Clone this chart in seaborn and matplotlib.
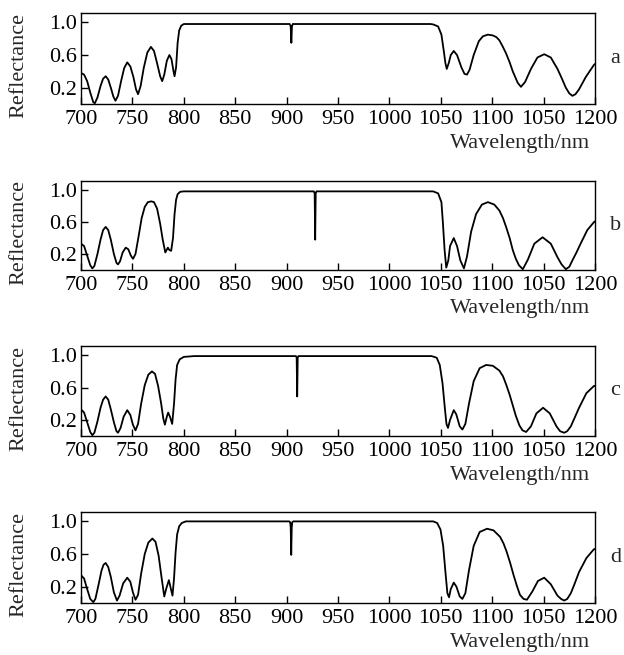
import matplotlib
matplotlib.use("Agg")
import matplotlib.pyplot as plt
import seaborn as sns

# reflectance spectra (a-d)
wl_a = [700, 703, 706, 709, 712, 713.5, 716, 719, 721.5, 724,
        726.5, 729, 731.5, 733.5, 736, 739, 742, 745, 748, 751,
        753.5, 755.5, 758, 761, 764.5, 768, 771, 774, 777, 779,
        781, 783.5, 786, 788, 790, 791, 792.5, 794, 795.5, 797.5,
        800, 850, 903, 904, 904.6, 905.2, 906, 950, 1000, 1040,
        1042.6, 1047.4, 1050.6, 1052.9, 1054.5, 1055.8, 1057.7, 1059.7, 1062.6, 1065.8,
        1070, 1073, 1075.5, 1078, 1082, 1087, 1091, 1095.8, 1100.6, 1104,
        1107, 1110, 1113.5, 1117, 1120, 1124.8, 1128, 1132, 1137.7, 1144,
        1150.6, 1157, 1163.5, 1167.5, 1171.6, 1175, 1178, 1181, 1184.5, 1191,
        1199, 1200]
r_a = [0.38, 0.36, 0.28, 0.14, 0.02, 0.01, 0.08, 0.22, 0.31, 0.34,
       0.30, 0.20, 0.09, 0.04, 0.10, 0.28, 0.44, 0.51, 0.46, 0.33,
       0.18, 0.12, 0.22, 0.44, 0.63, 0.70, 0.65, 0.50, 0.34, 0.28,
       0.36, 0.53, 0.60, 0.55, 0.40, 0.34, 0.45, 0.75, 0.90, 0.96,
       0.98, 0.98, 0.98, 0.95, 0.75, 0.95, 0.98, 0.98, 0.98, 0.98,
       0.975, 0.95, 0.85, 0.65, 0.50, 0.43, 0.50, 0.60, 0.65, 0.60,
       0.45, 0.37, 0.36, 0.42, 0.60, 0.77, 0.83, 0.85, 0.84, 0.82,
       0.78, 0.71, 0.62, 0.51, 0.40, 0.26, 0.21, 0.27, 0.43, 0.57,
       0.61, 0.57, 0.43, 0.32, 0.20, 0.13, 0.10, 0.12, 0.18, 0.33,
       0.48, 0.49]

wl_b = [700, 703, 706, 709, 711, 713, 716, 719, 721.5, 724,
        726.5, 729, 732, 734.5, 736, 738, 740.5, 743.5, 746, 748.5,
        750.6, 753, 756, 759, 762, 765, 768.4, 771, 774, 777,
        779.5, 782, 784.5, 786, 787.7, 789.5, 791, 792.5, 794, 796.5,
        800, 850, 900, 926.5, 927.3, 927.8, 928.3, 929, 950, 1000,
        1042.6, 1047.4, 1050.6, 1052, 1053.7, 1055.3, 1057.3, 1059, 1062.6, 1065.8,
        1069, 1072.5, 1075.5, 1079.5, 1084.3, 1090, 1095.8, 1102, 1107, 1110.5,
        1113.5, 1117, 1120, 1123, 1126, 1129.8, 1134.7, 1141, 1149, 1157,
        1163.5, 1167.5, 1171.6, 1175, 1178, 1182, 1186, 1192.5, 1199, 1200]
r_b = [0.33, 0.30, 0.18, 0.06, 0.02, 0.05, 0.20, 0.38, 0.50, 0.54,
       0.50, 0.38, 0.20, 0.09, 0.07, 0.11, 0.22, 0.28, 0.26, 0.18,
       0.14, 0.20, 0.42, 0.65, 0.79, 0.85, 0.86, 0.85, 0.77, 0.58,
       0.38, 0.22, 0.28, 0.25, 0.24, 0.40, 0.70, 0.88, 0.95, 0.98,
       0.985, 0.985, 0.985, 0.985, 0.96, 0.38, 0.96, 0.985, 0.985, 0.985,
       0.985, 0.96, 0.85, 0.60, 0.25, 0.03, 0.12, 0.30, 0.40, 0.30,
       0.12, 0.02, 0.17, 0.48, 0.70, 0.82, 0.85, 0.82, 0.745, 0.65,
       0.54, 0.40, 0.25, 0.14, 0.06, 0.01, 0.13, 0.33, 0.41, 0.33,
       0.16, 0.07, 0.01, 0.04, 0.12, 0.22, 0.33, 0.50, 0.60, 0.61]

wl_c = [700, 703, 706, 709, 711, 713, 716, 719, 721.5, 724,
        726.5, 729, 732, 734.5, 736, 738.5, 741.5, 745, 748, 750.5,
        753, 755.5, 758.5, 762, 765.5, 769, 772, 775, 778, 780,
        781.6, 783.5, 784.8, 786.5, 788.7, 790.5, 792, 793.5, 796, 800,
        810, 850, 900, 909, 909.8, 910.3, 910.8, 911.5, 950, 1000,
        1041, 1046, 1049, 1051.7, 1053.9, 1055.5, 1057, 1059, 1062.6, 1065,
        1068.4, 1071, 1073.9, 1077.4, 1082, 1087.8, 1094, 1100.6, 1107, 1110.5,
        1113.5, 1117, 1120, 1123, 1126.5, 1129.5, 1133, 1137.7, 1143, 1149.5,
        1156, 1162.5, 1166, 1170, 1173, 1176.5, 1180, 1184.5, 1191.6, 1199,
        1200]
r_c = [0.33, 0.29, 0.17, 0.05, 0.01, 0.04, 0.18, 0.35, 0.45, 0.49,
       0.45, 0.33, 0.17, 0.06, 0.04, 0.10, 0.24, 0.32, 0.26, 0.14,
       0.07, 0.15, 0.40, 0.63, 0.76, 0.80, 0.77, 0.62, 0.40, 0.22,
       0.14, 0.24, 0.29, 0.24, 0.15, 0.40, 0.70, 0.88, 0.95, 0.98,
       0.99, 0.99, 0.99, 0.99, 0.97, 0.49, 0.97, 0.99, 0.99, 0.99,
       0.99, 0.97, 0.88, 0.65, 0.35, 0.15, 0.10, 0.20, 0.32, 0.27,
       0.12, 0.08, 0.15, 0.40, 0.68, 0.84, 0.88, 0.87, 0.81, 0.74,
       0.64, 0.51, 0.38, 0.25, 0.13, 0.07, 0.05, 0.12, 0.28, 0.35,
       0.28, 0.12, 0.06, 0.04, 0.06, 0.12, 0.22, 0.35, 0.53, 0.62,
       0.62]

wl_d = [700, 703, 706, 709, 712, 714, 717, 720, 722, 724,
        726.5, 729, 732, 735, 737.5, 741, 745, 748, 750.5, 753,
        755.5, 758.5, 762, 765.5, 769.4, 772.5, 775.5, 778.5, 781, 783,
        785.5, 787.5, 789, 790.5, 792, 793.5, 795.5, 798, 802, 850,
        900, 902.5, 903.5, 904, 904.5, 905, 905.5, 906.5, 950, 1000,
        1042.6, 1046.5, 1049.7, 1052.3, 1054.5, 1056.4, 1058, 1059.7, 1062.6, 1065.2,
        1068.4, 1071, 1073.9, 1077.4, 1082, 1087.8, 1095, 1101.3, 1107.7, 1111,
        1114, 1117.5, 1120.6, 1124, 1127, 1130.5, 1133.8, 1139, 1144.5, 1150.6,
        1157, 1163.5, 1167, 1170, 1173, 1176.5, 1180, 1184.5, 1191.6, 1199,
        1200]
r_d = [0.34, 0.30, 0.17, 0.05, 0.01, 0.05, 0.22, 0.40, 0.47, 0.49,
       0.44, 0.32, 0.13, 0.03, 0.09, 0.24, 0.31, 0.26, 0.13, 0.04,
       0.10, 0.36, 0.60, 0.74, 0.79, 0.75, 0.58, 0.30, 0.08, 0.18,
       0.28, 0.17, 0.09, 0.30, 0.62, 0.84, 0.94, 0.98, 1.0, 1.0,
       1.0, 1.0, 0.99, 0.93, 0.59, 0.93, 0.99, 1.0, 1.0, 1.0,
       1.0, 0.98, 0.90, 0.70, 0.38, 0.12, 0.07, 0.17, 0.25, 0.20,
       0.08, 0.05, 0.12, 0.40, 0.70, 0.87, 0.91, 0.89, 0.81, 0.73,
       0.63, 0.49, 0.35, 0.21, 0.10, 0.05, 0.04, 0.14, 0.27, 0.31,
       0.23, 0.09, 0.05, 0.03, 0.05, 0.12, 0.23, 0.38, 0.55, 0.66,
       0.66]

panel_names = ["a", "b", "c", "d"]
x_ticks = [700, 750, 800, 850, 900, 950, 1000, 1050, 1100, 1150, 1200]
x_tick_labels = ["700", "750", "800", "850", "900", "950", "1000",
                 "1050", "1100", "1050", "1200"]
y_ticks = [0.2, 0.6, 1.0]
y_tick_labels = ["0.2", "0.6", "1.0"]

sns.set_style("ticks")
plt.rcParams["font.family"] = ["Liberation Serif", "DejaVu Serif"]

fig = plt.figure(figsize=(6.24, 6.55), dpi=100)

# axes boxes in pixels (top, bottom) from the reference
boxes = [(13, 104), (181, 270), (346, 436), (512, 603)]
series = [(wl_a, r_a), (wl_b, r_b), (wl_c, r_c), (wl_d, r_d)]

for (top, bot), (wl, r), name in zip(boxes, series, panel_names):
    ax = fig.add_axes([81 / 624, 1 - bot / 655, 514 / 624, (bot - top) / 655])
    sns.lineplot(x=wl, y=r, ax=ax, color="black", lw=1.3)
    ax.set_xlim(700, 1200)
    ax.set_ylim(0, 1.115)
    ax.set_xticks(x_ticks)
    ax.set_xticklabels(x_tick_labels)
    ax.set_yticks(y_ticks)
    ax.set_yticklabels(y_tick_labels)
    ax.tick_params(direction="in", length=5, width=1, labelsize=16,
                   colors="black", pad=4)
    ax.tick_params(axis="y", pad=3)
    for s in ax.spines.values():
        s.set_linewidth(1.0)
        s.set_color("black")
    ax.set_ylabel("Reflectance", fontsize=16)
    ax.yaxis.set_label_coords(-0.102, 0.42)
    ax.set_xlabel("Wavelength/nm", fontsize=16, loc="right")
    ax.xaxis.set_label_coords(0.99, -0.33)
    ax.text(1.04, 0.5, name, transform=ax.transAxes, fontsize=16,
            ha="center", va="center")

fig.savefig("out.png", dpi=100)
